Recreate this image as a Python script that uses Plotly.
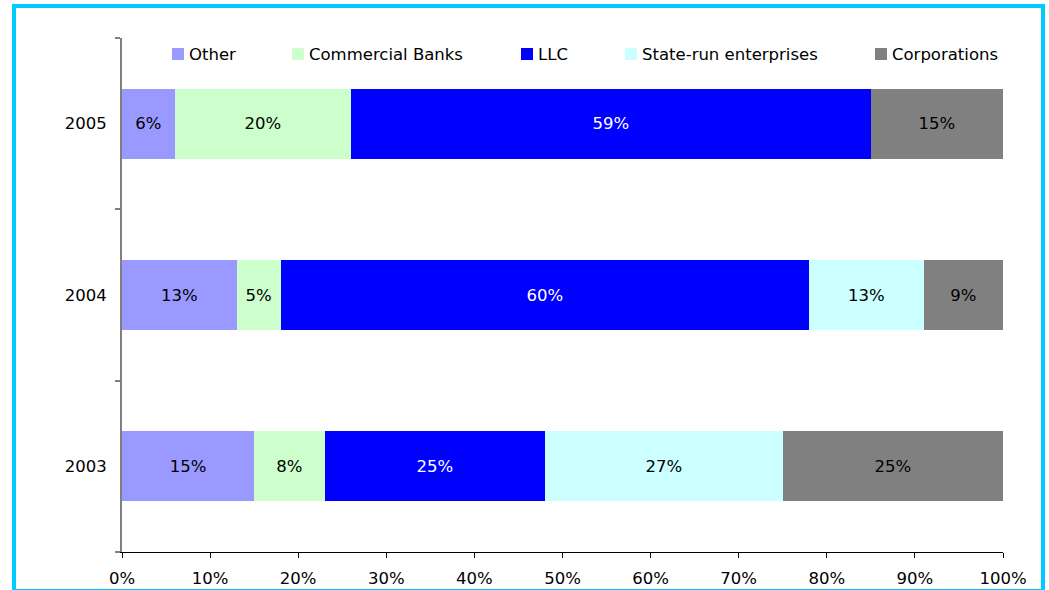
import plotly.graph_objects as go

# Share of issuers by type, per year (percent)
years = ["2003", "2004", "2005"]
series_names = ["Other", "Commercial Banks", "LLC", "State-run enterprises", "Corporations"]
other = [15, 13, 6]
commercial_banks = [8, 5, 20]
llc = [25, 60, 59]
state_run = [27, 13, 0]
corporations = [25, 9, 15]

series_values = [other, commercial_banks, llc, state_run, corporations]
series_colors = ["#9999FF", "#CCFFCC", "#0000FF", "#CCFFFF", "#808080"]
label_colors = ["#000000", "#000000", "#FFFFFF", "#000000", "#000000"]
x_ticks = [0, 10, 20, 30, 40, 50, 60, 70, 80, 90, 100]
x_tick_labels = [f"{t}%" for t in x_ticks]

FONT = "DejaVu Sans, Verdana, sans-serif"
FS = 16.5
W, H = 1049, 590
ML, MR, MT, MB = 122, 46, 38, 38
PW, PH = W - ML - MR, H - MT - MB


def px_x(px):
    return (px - ML) / PW


def px_y(py):
    return (H - MB - py) / PH


fig = go.Figure()
for name, vals, col, tcol in zip(series_names, series_values, series_colors, label_colors):
    fig.add_trace(go.Bar(
        y=years,
        x=vals,
        name=name,
        orientation="h",
        marker=dict(color=col, line=dict(width=0)),
        text=[f"{v}%" if v > 0 else "" for v in vals],
        textposition="inside",
        insidetextanchor="middle",
        textangle=0,
        constraintext="none",
        textfont=dict(family=FONT, size=FS, color=tcol),
        showlegend=False,
        hoverinfo="x+y+name",
    ))

# Legend row across the top
legend_left_px = [172, 292, 521, 625, 875]
legend_mid_py = 54
shapes = []
annotations = []
for name, col, lx in zip(series_names, series_colors, legend_left_px):
    shapes.append(dict(
        type="rect", xref="paper", yref="paper",
        x0=px_x(lx), x1=px_x(lx + 12),
        y0=px_y(legend_mid_py + 6), y1=px_y(legend_mid_py - 6),
        fillcolor=col, line=dict(width=0),
    ))
    annotations.append(dict(
        xref="paper", yref="paper",
        x=px_x(lx + 15), y=px_y(legend_mid_py),
        xanchor="left", yanchor="middle",
        text=name, showarrow=False,
        font=dict(family=FONT, size=FS, color="#000000"),
    ))

# Outer frame
shapes.append(dict(
    type="rect", xref="paper", yref="paper",
    x0=px_x(14), x1=px_x(1043), y0=px_y(591), y1=px_y(6),
    line=dict(color="#00CCFF", width=4), fillcolor="rgba(0,0,0,0)",
    layer="above",
))

fig.update_layout(
    width=W, height=H,
    margin=dict(l=ML, r=MR, t=MT, b=MB, pad=0, autoexpand=False),
    barmode="stack",
    bargap=0.59,
    paper_bgcolor="#FFFFFF",
    plot_bgcolor="#FFFFFF",
    font=dict(family=FONT, size=FS, color="#000000"),
    shapes=shapes,
    annotations=annotations,
    uniformtext=dict(mode=False),
)

fig.update_xaxes(
    automargin=False,
    range=[0, 100],
    tickvals=x_ticks,
    ticktext=x_tick_labels,
    showgrid=False,
    zeroline=False,
    showline=True,
    linecolor="#000000",
    linewidth=1,
    ticks="outside",
    ticklen=5,
    tickcolor="#000000",
    tickwidth=1,
    ticklabelstandoff=6,
    tickfont=dict(family=FONT, size=FS, color="#000000"),
)

fig.update_yaxes(
    automargin=False,
    type="category",
    categoryorder="array",
    categoryarray=years,
    range=[-0.5, 2.5],
    showgrid=False,
    zeroline=False,
    showline=True,
    linecolor="#808080",
    linewidth=2,
    ticks="outside",
    tickson="boundaries",
    ticklen=5,
    tickcolor="#808080",
    tickwidth=1.5,
    ticklabelstandoff=10,
    tickfont=dict(family=FONT, size=FS, color="#000000"),
)

fig.write_html("out.html")
